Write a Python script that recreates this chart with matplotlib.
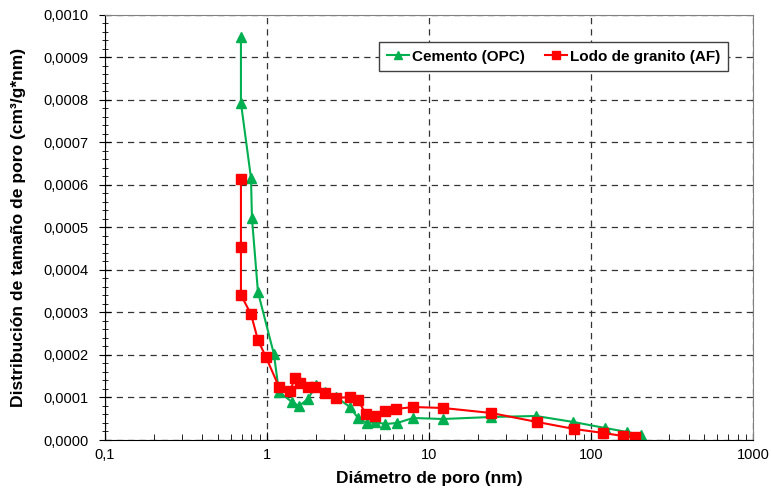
import matplotlib
matplotlib.use("Agg")
import matplotlib.pyplot as plt
from matplotlib.ticker import FuncFormatter, MultipleLocator, LogLocator, NullFormatter

plt.rcParams["font.family"] = ["Liberation Sans", "DejaVu Sans"]

# Cemento (OPC)
opc_d = [0.691, 0.691, 0.797, 0.808, 0.880, 1.104, 1.186, 1.427, 1.576, 1.791,
         2.006, 2.28, 2.667, 3.25, 3.64, 4.14, 4.64, 5.35, 6.35, 7.96,
         12.2, 24.2, 45.6, 77.6, 122, 167, 203]
opc_v = [0.000948, 0.000793, 0.000616, 0.000522, 0.000348, 0.000202, 0.000113,
         0.0000894, 0.0000800, 0.0000965, 0.000129, 0.000113, 0.000101,
         0.0000776, 0.0000518, 0.0000400, 0.0000424, 0.0000376, 0.0000400,
         0.0000518, 0.0000494, 0.0000541, 0.0000565, 0.0000424, 0.0000282,
         0.0000188, 0.0000118]

# Lodo de granito (AF)
af_d = [0.691, 0.691, 0.691, 0.797, 0.880, 0.986, 1.186, 1.387, 1.489, 1.60,
        1.79, 1.98, 2.28, 2.667, 3.25, 3.64, 4.08, 4.64, 5.35, 6.25, 7.96,
        12.2, 24.2, 46.4, 78.6, 119, 157, 186]
af_v = [0.000614, 0.000454, 0.000341, 0.000296, 0.000235, 0.000195, 0.000125,
        0.000115, 0.000146, 0.000134, 0.000125, 0.000125, 0.000111, 0.0000988,
        0.000101, 0.0000941, 0.0000612, 0.0000565, 0.0000682, 0.0000729,
        0.0000776, 0.0000753, 0.0000635, 0.0000424, 0.0000259, 0.0000165,
        0.0000094, 0.0000071]

fig = plt.figure(figsize=(7.71, 4.93), dpi=100)
ax = fig.add_axes([0.136, 0.1075, 0.841, 0.8625])

ax.plot(opc_d, opc_v, color="#00B050", marker="^", markersize=7, linewidth=1.5,
        label="Cemento (OPC)")
ax.plot(af_d, af_v, color="#FF0000", marker="s", markersize=7, linewidth=1.5,
        label="Lodo de granito (AF)")

ax.set_xscale("log")
ax.set_xlim(0.1, 1000)
ax.set_ylim(0, 0.001)

ax.xaxis.set_major_locator(LogLocator(base=10))
ax.xaxis.set_minor_locator(LogLocator(base=10, subs=range(2, 10)))
ax.xaxis.set_minor_formatter(NullFormatter())
ax.xaxis.set_major_formatter(FuncFormatter(
    lambda v, p: ("%g" % v).replace(".", ",")))
ax.yaxis.set_major_locator(MultipleLocator(0.0001))
ax.yaxis.set_minor_locator(MultipleLocator(0.00002))
ax.yaxis.set_major_formatter(FuncFormatter(
    lambda v, p: ("%.4f" % v).replace(".", ",")))

ax.tick_params(axis="x", which="both", direction="in", labelsize=10.5, pad=6)
ax.tick_params(axis="x", which="major", length=6)
ax.tick_params(axis="x", which="minor", length=4)
ax.tick_params(axis="y", which="both", direction="inout", labelsize=10.5, pad=8)
ax.tick_params(axis="y", which="major", length=8)
ax.tick_params(axis="y", which="minor", length=5)

ax.grid(True, which="major", linestyle=(0, (5, 4)), color="#333333", linewidth=0.9)
for s in ("top", "right"):
    ax.spines[s].set_color("#808080")

ax.set_xlabel("Diámetro de poro (nm)", fontsize=12.5, fontweight="bold", labelpad=6)
ax.set_ylabel("Distribución de tamaño de poro (cm³/g*nm)", fontsize=12.6,
              fontweight="bold", labelpad=12)

leg = ax.legend(loc="upper right", bbox_to_anchor=(0.961, 0.936), ncol=2,
                borderaxespad=0, fancybox=False, framealpha=1, edgecolor="#404040",
                prop={"weight": "bold", "size": 11}, handlelength=1.45,
                handletextpad=0.2, columnspacing=1.3, borderpad=0.5,
                markerscale=0.85)
leg.get_frame().set_linewidth(1.0)

fig.savefig("out.png", dpi=100)
